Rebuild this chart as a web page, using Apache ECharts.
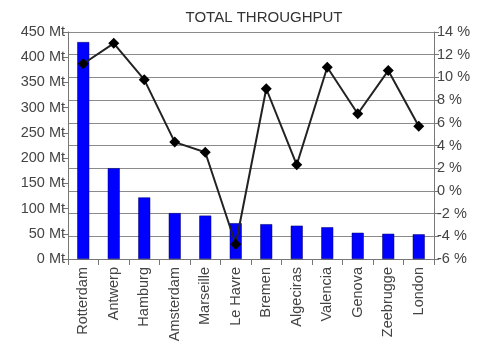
<!DOCTYPE html>
<html><head><meta charset="utf-8">
<script src="https://cdn.jsdelivr.net/npm/echarts@6/dist/echarts.min.js"></script>
<style>html,body{margin:0;padding:0;background:#fff}#c{width:479px;height:353px}</style>
</head><body><div id="c"></div>
<script>
var categories = ['Rotterdam','Antwerp','Hamburg','Amsterdam','Marseille','Le Havre','Bremen','Algeciras','Valencia','Genova','Zeebrugge','London'];
var throughput = [430, 180, 122, 91, 86, 71, 69, 66, 63, 52, 50, 49];
var growth = [11.2, 13.0, 9.8, 4.3, 3.4, -4.7, 9.0, 2.3, 10.9, 6.8, 10.6, 5.7];
var title = 'TOTAL THROUGHPUT';

var chart = echarts.init(document.getElementById('c'));
var font = 'Liberation Sans, Arial, sans-serif';
chart.setOption({
  animation: false,
  title: {text: title, left: 259, top: 5, textAlign: 'center',
    textStyle: {fontFamily: font, fontSize: 15, fontWeight: 'normal', color: '#333'}},
  grid: {left: 68, right: 45, top: 32, bottom: 94},
  xAxis: {type: 'category', data: categories,
    axisLine: {lineStyle: {color: '#777'}},
    axisTick: {show: true, alignWithLabel: false, length: 6, lineStyle: {color: '#777'}},
    axisLabel: {rotate: 90, interval: 0, fontFamily: font, fontSize: 14.5, color: '#444', margin: 8}},
  yAxis: [
    {type: 'value', min: 0, max: 450, interval: 50, position: 'left',
      axisLine: {show: true, lineStyle: {color: '#777'}},
      axisTick: {show: true, length: 5, lineStyle: {color: '#777'}},
      splitLine: {show: false},
      axisLabel: {formatter: '{value} Mt', fontFamily: font, fontSize: 14.5, color: '#444', margin: 3}},
    {type: 'value', min: -6, max: 14, interval: 2, position: 'right',
      axisLine: {show: true, lineStyle: {color: '#777'}},
      axisTick: {show: true, length: 5, lineStyle: {color: '#777'}},
      splitLine: {show: true, lineStyle: {color: '#8a8a8a', width: 1}},
      axisLabel: {formatter: '{value} %', fontFamily: font, fontSize: 14.5, color: '#444', margin: 3}}
  ],
  series: [
    {type: 'bar', data: throughput, yAxisIndex: 0, barWidth: 12,
      itemStyle: {color: '#0000ff', borderColor: '#000066', borderWidth: 0.5}},
    {type: 'line', data: growth, yAxisIndex: 1, symbol: 'diamond', symbolSize: 11,
      lineStyle: {color: '#222', width: 2}, itemStyle: {color: '#000'}}
  ]
});
</script></body></html>
